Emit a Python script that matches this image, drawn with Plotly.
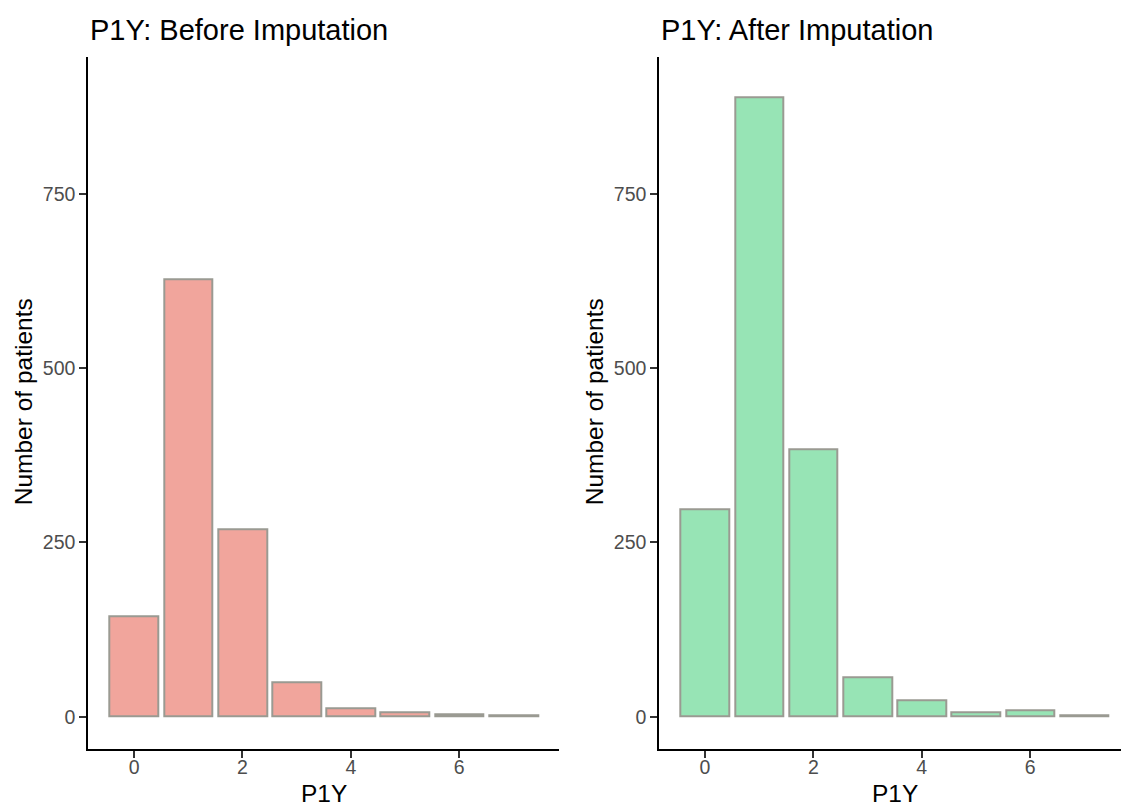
import plotly.graph_objects as go

W, H = 1121, 808

categories = [0, 1, 2, 3, 4, 5, 6, 7]
before_counts = [144, 628, 269, 49, 12, 6, 3, 2]
after_counts = [297, 889, 384, 57, 24, 7, 9, 2]
y_ticks = [0, 250, 500, 750]
x_ticks = [0, 2, 4, 6]
titles = ["P1Y: Before Imputation", "P1Y: After Imputation"]
x_title = "P1Y"
y_title = "Number of patients"

FONT = "Arial, Liberation Sans, sans-serif"
fill_left = "#F1A59C"
fill_right = "#97E4B5"
edge = "#9A9A92"

fig = go.Figure()
fig.add_trace(go.Bar(x=categories, y=before_counts, width=0.9, xaxis="x", yaxis="y",
                     marker=dict(color=fill_left, line=dict(color=edge, width=2)),
                     showlegend=False))
fig.add_trace(go.Bar(x=categories, y=after_counts, width=0.9, xaxis="x2", yaxis="y2",
                     marker=dict(color=fill_right, line=dict(color=edge, width=2)),
                     showlegend=False))

# pixel geometry
L1, R1 = 88.3, 559.2
L2, R2 = 659.3, 1121.0
TOP, BOT = 57.3, 748.7
px_per_unit = 54.2
xr1 = [-0.845, 7.845]
xr2 = [-0.843, -0.843 + (R2 - L2) / px_per_unit]
yr = [-45.9, 946]

ydom = [1 - BOT / H, 1 - TOP / H]

axis_common = dict(showline=True, linewidth=2, linecolor="black", ticks="outside",
                   ticklen=7, tickwidth=2, tickcolor="#333333", showgrid=False,
                   zeroline=False, tickfont=dict(family=FONT, size=19.5, color="#4D4D4D"))

fig.update_layout(
    width=W, height=H,
    margin=dict(l=0, r=0, t=0, b=0),
    paper_bgcolor="white", plot_bgcolor="white",
    xaxis=dict(domain=[L1 / W, R1 / W], range=xr1, tickvals=x_ticks, anchor="y",
               ticklabelstandoff=-7, **axis_common),
    yaxis=dict(domain=ydom, range=yr, tickvals=y_ticks, anchor="x", **axis_common),
    xaxis2=dict(domain=[L2 / W, R2 / W], range=xr2, tickvals=x_ticks, anchor="y2",
                ticklabelstandoff=-7, **axis_common),
    yaxis2=dict(domain=ydom, range=yr, tickvals=y_ticks, anchor="x2", **axis_common),
    bargap=0,
)

ann = []
for L, R, t in [(L1, R1, titles[0]), (L2, 659.3 + (R1 - L1), titles[1])]:
    ann.append(dict(text=t, x=L / W, y=1 - 30 / H, xref="paper", yref="paper",
                    xanchor="left", yanchor="middle", showarrow=False,
                    font=dict(family=FONT, size=29, color="black")))
    ann.append(dict(text=x_title, x=(L + R) / 2 / W, y=1 - 793 / H, xref="paper", yref="paper",
                    xanchor="center", yanchor="middle", showarrow=False,
                    font=dict(family=FONT, size=24.5, color="black")))
    ann.append(dict(text=y_title, x=(L - 65) / W, y=1 - 402 / H, xref="paper", yref="paper",
                    xanchor="center", yanchor="middle", showarrow=False, textangle=-90,
                    font=dict(family=FONT, size=24.5, color="black")))
fig.update_layout(annotations=ann)

fig.write_html("out.html")
